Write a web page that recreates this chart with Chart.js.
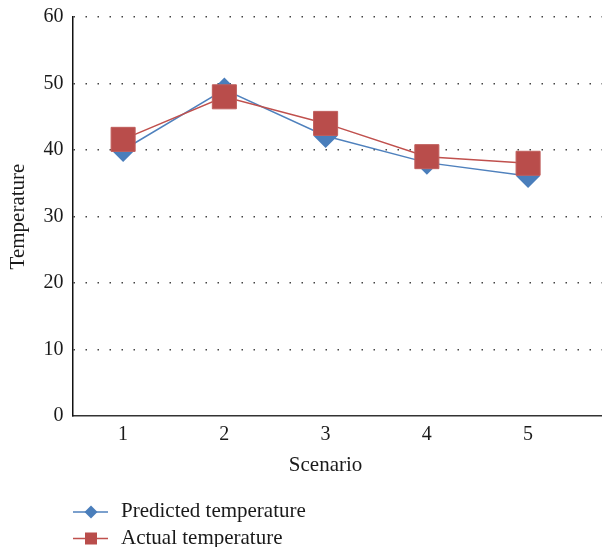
<!DOCTYPE html>
<html>
<head>
<meta charset="utf-8">
<script src="https://cdn.jsdelivr.net/npm/chart.js@4.4.0/dist/chart.umd.min.js"></script>
<style>
  html, body { margin: 0; padding: 0; background: #fff; overflow: hidden; }
  #wrap { width: 602px; height: 547px; position: relative; }
</style>
</head>
<body>
<div id="wrap"><canvas id="c" width="602" height="547"></canvas></div>
<script>
const scenarios = [1, 2, 3, 4, 5];
const predicted = [40.0, 49.1, 42.1, 38.1, 36.1];
const actual = [41.6, 48.0, 44.0, 39.0, 38.0];
const yTicks = [0, 10, 20, 30, 40, 50, 60];
const seriesNames = ['Predicted temperature', 'Actual temperature'];
const xTitle = 'Scenario';
const yTitle = 'Temperature';

const FONT = "'Liberation Serif', 'DejaVu Serif', serif";
const BLUE_LINE = '#4F81BD', BLUE_PT = '#4A7EBB';
const RED_LINE = '#C0504D', RED_PT = '#B94D4B';

const legendPlugin = {
  id: 'customLegend',
  afterDraw(chart) {
    const ctx = chart.ctx;
    ctx.save();
    // x-axis title, centred under the middle scenario
    const xs = chart.scales.x;
    const midVal = (scenarios[0] + scenarios[scenarios.length - 1]) / 2;
    ctx.fillStyle = '#1a1a1a';
    ctx.font = '21px ' + FONT;
    ctx.textAlign = 'center';
    ctx.textBaseline = 'middle';
    ctx.fillText(xTitle, xs.getPixelForValue(midVal), 465);

    const rows = [
      { ds: chart.data.datasets[1], lineY: 512, baseY: 517 },
      { ds: chart.data.datasets[0], lineY: 538.5, baseY: 543.5 }
    ];
    rows.forEach(r => {
      ctx.strokeStyle = r.ds.borderColor;
      ctx.lineWidth = 1.5;
      ctx.beginPath();
      ctx.moveTo(73, r.lineY);
      ctx.lineTo(108, r.lineY);
      ctx.stroke();
      ctx.fillStyle = r.ds.pointBackgroundColor;
      ctx.beginPath();
      if (r.ds.pointStyle === 'rectRot') {
        ctx.moveTo(91 - 6.5, r.lineY);
        ctx.lineTo(91, r.lineY - 6.5);
        ctx.lineTo(91 + 6.5, r.lineY);
        ctx.lineTo(91, r.lineY + 6.5);
        ctx.closePath();
      } else {
        ctx.rect(85, r.lineY - 6, 12, 12);
      }
      ctx.fill();
      ctx.fillStyle = '#1a1a1a';
      ctx.font = '21px ' + FONT;
      ctx.textBaseline = 'alphabetic';
      ctx.textAlign = 'left';
      ctx.fillText(r.ds.label, 121, r.baseY);
    });
    ctx.restore();
  }
};

new Chart(document.getElementById('c'), {
  type: 'line',
  data: {
    datasets: [
      {
        label: seriesNames[1],
        data: scenarios.map((s, i) => ({ x: s, y: actual[i] })),
        borderColor: RED_LINE,
        borderWidth: 1.5,
        pointStyle: 'rect',
        pointRadius: 17,
        pointBackgroundColor: RED_PT,
        pointBorderColor: '#C05E5C',
        pointBorderWidth: 1,
        tension: 0,
        order: 0
      },
      {
        label: seriesNames[0],
        data: scenarios.map((s, i) => ({ x: s, y: predicted[i] })),
        borderColor: BLUE_LINE,
        borderWidth: 1.5,
        pointStyle: 'rectRot',
        pointRadius: 12,
        pointBackgroundColor: BLUE_PT,
        pointBorderColor: BLUE_PT,
        pointBorderWidth: 0,
        tension: 0,
        order: 1
      }
    ]
  },
  options: {
    responsive: false,
    animation: false,
    devicePixelRatio: 1,
    layout: { autoPadding: false, padding: { top: 17, right: 0, bottom: 65, left: 0 } },
    plugins: { legend: { display: false }, tooltip: { enabled: false } },
    scales: {
      x: {
        type: 'linear',
        min: 0.5,
        max: 5.73,
        afterBuildTicks: s => { s.ticks = scenarios.map(v => ({ value: v })); },
        afterFit: s => { s.height = 66; s.paddingLeft = 0; s.paddingRight = 0; },
        grid: { display: false, drawTicks: false },
        border: { display: true, color: '#333', width: 1.5 },
        ticks: {
          padding: 7,
          color: '#1a1a1a',
          font: { family: FONT, size: 20 },
          callback: v => String(v)
        },
        title: { display: false, text: xTitle }
      },
      y: {
        min: 0,
        max: 60,
        afterBuildTicks: s => { s.ticks = yTicks.map(v => ({ value: v })); },
        afterFit: s => { s.width = 72.5; s.paddingTop = 0; s.paddingBottom = 0; },
        grid: {
          drawTicks: false,
          lineWidth: 1.5,
          color: c => (c.tick && c.tick.value === 0) ? 'rgba(0,0,0,0)' : '#444'
        },
        border: { display: true, color: '#111', width: 1.5, dash: [1.5, 10.5] },
        ticks: {
          padding: 9,
          color: '#1a1a1a',
          font: { family: FONT, size: 20 }
        },
        title: {
          display: true,
          text: yTitle,
          color: '#1a1a1a',
          font: { family: FONT, size: 21 },
          padding: { top: 6, bottom: 0 }
        }
      }
    }
  },
  plugins: [legendPlugin]
});
</script>
</body>
</html>
